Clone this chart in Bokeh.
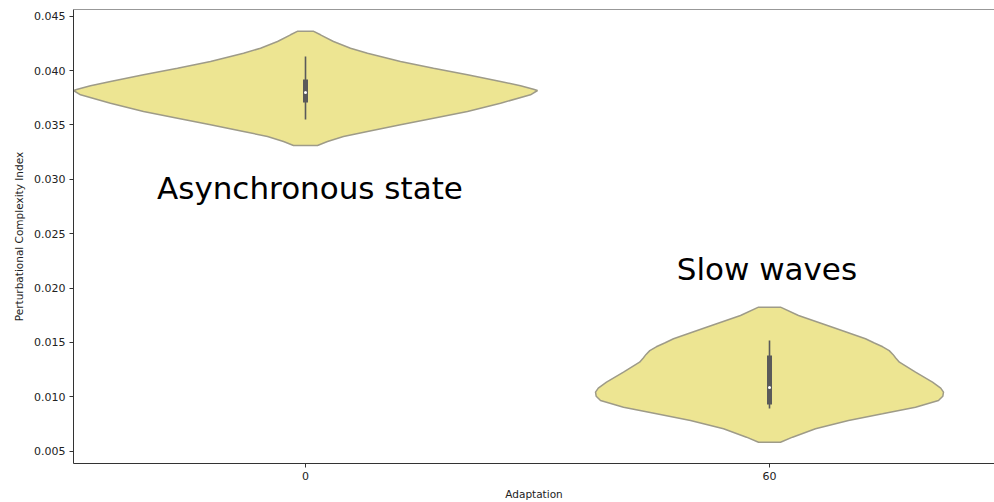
from bokeh.plotting import figure
from bokeh.models import FixedTicker, Range1d, NumeralTickFormatter, Span
from bokeh.core.properties import value
from bokeh.embed import file_html
from bokeh.resources import INLINE

# ---- data ----
categories = ["0", "60"]

# violin outline for adaptation = 0: y values and half-widths (category units)
v0_y = [0.043621, 0.043290, 0.042674, 0.042058, 0.041598, 0.040835, 0.040219,
        0.039612, 0.038996, 0.038600, 0.038288, 0.038168, 0.037773, 0.037000,
        0.036237, 0.035621, 0.035014, 0.034398, 0.033938, 0.033479, 0.033111]
v0_w = [0.0166, 0.0323, 0.0603, 0.0970, 0.1336, 0.2047, 0.2759, 0.3491, 0.4203,
        0.4634, 0.4914, 0.5000, 0.4849, 0.4203, 0.3491, 0.2759, 0.2047, 0.1336,
        0.0819, 0.0474, 0.0259]

# violin outline for adaptation = 60
v1_y = [0.018243, 0.017479, 0.016404, 0.015337, 0.014950, 0.014600, 0.014250,
        0.013900, 0.013570, 0.013185, 0.012266, 0.011346, 0.010800, 0.010427,
        0.010050, 0.009664, 0.009048, 0.008440, 0.007824, 0.007061, 0.006289,
        0.005829]
v1_w = [0.0237, 0.0625, 0.1358, 0.2069, 0.2260, 0.2440, 0.2580, 0.2660, 0.2720,
        0.2800, 0.3147, 0.3513, 0.3690, 0.3750, 0.3735, 0.3642, 0.3147, 0.2435,
        0.1703, 0.0991, 0.0496, 0.0237]

# inner box statistics: whisker low, q1, median, q3, whisker high
whisk_lo = [0.035502, 0.008929]
q1 = [0.037065, 0.009295]
median = [0.037984, 0.010859]
q3 = [0.039180, 0.013802]
whisk_hi = [0.041294, 0.015181]

annotations = ["Asynchronous state", "Slow waves"]
annot_x = [-0.32, 0.80]
annot_y = [0.02916, 0.02171]

y_ticks = [0.005, 0.010, 0.015, 0.020, 0.025, 0.030, 0.035, 0.040, 0.045]

FILL = "#ede592"
EDGE = "#9e9b88"
BOXC = "#5a5a5a"
FONT = "DejaVu Sans"
Y_TOP = 0.045616

p = figure(width=994, height=502, output_backend="svg", toolbar_location=None,
           x_range=Range1d(-0.5, 1.4849), y_range=Range1d(0.003869, Y_TOP),
           min_border_left=73, min_border_right=0, min_border_top=9,
           min_border_bottom=39)
p.background_fill_color = "white"
p.border_fill_color = "white"
p.outline_line_color = None
p.xgrid.visible = False
p.ygrid.visible = False

# top spine (right spine lies outside the picture in the reference)
p.add_layout(Span(location=Y_TOP, dimension="width", line_color="#333333",
                  line_width=1.2))

for i, (ys, ws) in enumerate([(v0_y, v0_w), (v1_y, v1_w)]):
    xs = [i + w for w in ws] + [i - w for w in reversed(ws)]
    yy = list(ys) + list(reversed(ys))
    p.patch(xs, yy, fill_color=FILL, line_color=EDGE, line_width=1.5)

idx = list(range(len(categories)))
p.segment(x0=idx, y0=whisk_lo, x1=idx, y1=whisk_hi, line_color=BOXC, line_width=1.6)
p.segment(x0=idx, y0=q1, x1=idx, y1=q3, line_color=BOXC, line_width=5)
p.scatter(x=idx, y=median, size=3, fill_color="white", line_color=None)

p.text(x=annot_x, y=annot_y, text=annotations, text_font=value(FONT),
       text_font_size="31px", text_color="black", text_baseline="alphabetic",
       text_align="left")

# axes
p.xaxis.ticker = FixedTicker(ticks=idx)
p.xaxis.major_label_overrides = {i: c for i, c in enumerate(categories)}
p.yaxis.ticker = FixedTicker(ticks=y_ticks)
p.yaxis.formatter = NumeralTickFormatter(format="0.000")
p.xaxis.axis_label = "Adaptation"
p.yaxis.axis_label = "Perturbational Complexity Index"
for ax in (p.xaxis[0], p.yaxis[0]):
    ax.axis_line_color = "#333333"
    ax.axis_line_width = 1
    ax.major_tick_line_color = "#333333"
    ax.major_tick_out = 4
    ax.major_tick_in = 0
    ax.minor_tick_line_color = None
    ax.major_label_text_font = FONT
    ax.major_label_text_font_size = "11px"
    ax.major_label_text_color = "#222222"
    ax.major_label_standoff = 4
    ax.axis_label_text_font = FONT
    ax.axis_label_text_font_size = "10.5px"
    ax.axis_label_text_font_style = "normal"
    ax.axis_label_text_color = "#222222"
p.xaxis.axis_label_standoff = 5
p.yaxis.axis_label_standoff = 6

open("out.html", "w").write(file_html(p, INLINE))
